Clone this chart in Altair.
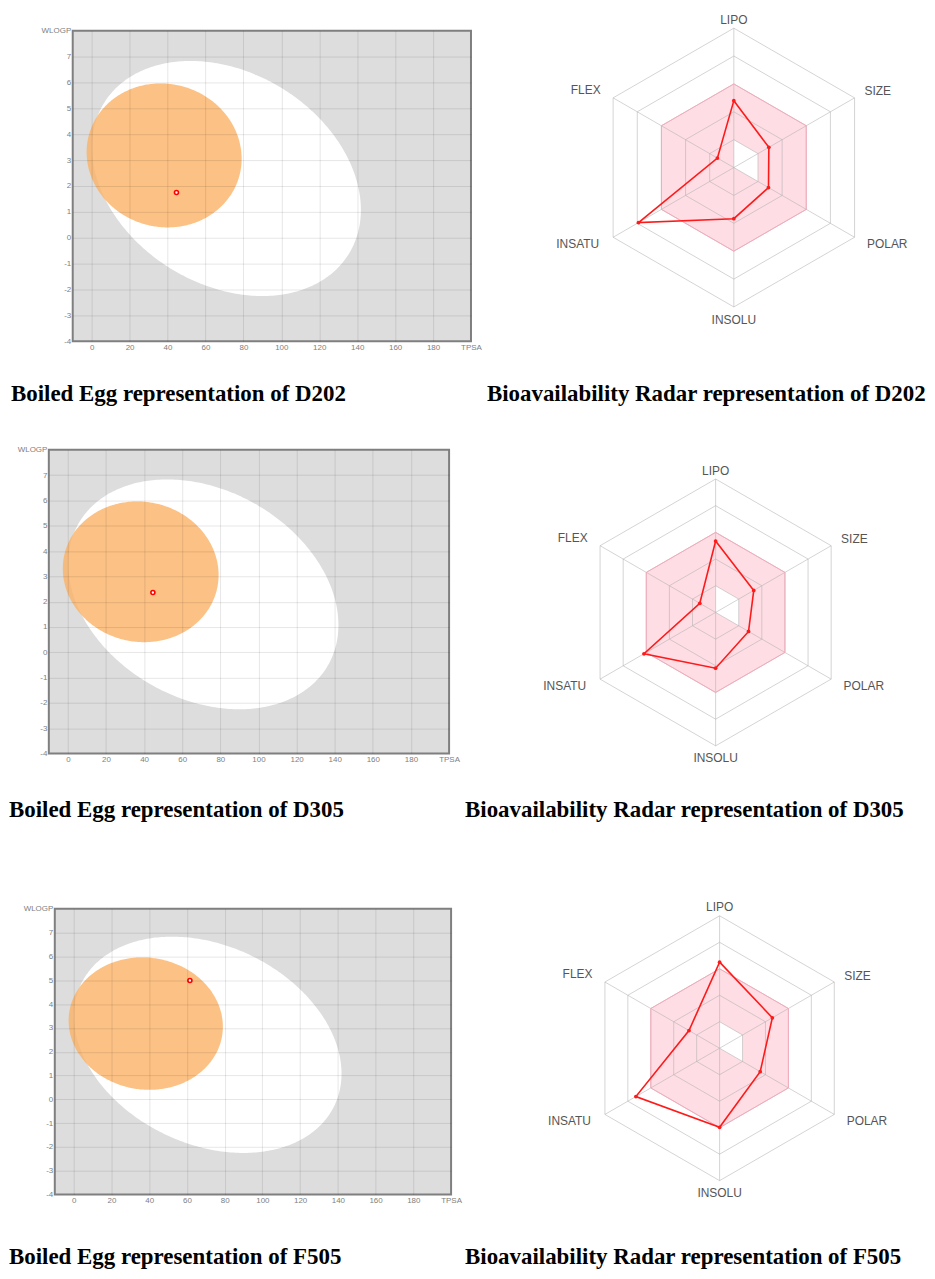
import math
import altair as alt
import pandas as pd

# ---------------- data ----------------
COMPOUNDS = ["D202", "D305", "F505"]
TPSA_VALUES = [44.7, 44.6, 61.6]
WLOGP_VALUES = [1.75, 2.36, 4.99]

RADAR_AXES = ["LIPO", "SIZE", "POLAR", "INSOLU", "INSATU", "FLEX"]
LIPO = [0.48, 0.535, 0.65]
SIZE = [0.29, 0.33, 0.46]
POLAR = [0.287, 0.285, 0.354]
INSOLU = [0.367, 0.418, 0.597]
INSATU = [0.79, 0.62, 0.73]
FLEX = [0.136, 0.137, 0.267]

TPSA_TICKS = [0, 20, 40, 60, 80, 100, 120, 140, 160, 180, 200]
WLOGP_TICKS = [-4, -3, -2, -1, 0, 1, 2, 3, 4, 5, 6, 7, 8]
TPSA_TITLE = "TPSA"
WLOGP_TITLE = "WLOGP"
TPSA_DOMAIN = [-10, 200]
WLOGP_DOMAIN = [-4, 8]

RING_LEVELS = [0.2, 0.4, 0.6, 0.8, 1.0]
BAND_INNER = 0.2
BAND_OUTER = 0.6

# Egg regions: centre (data units), semi-axes and tilt measured in the reference panel
WHITE_EGG = {"cx": 71.05, "cy": 2.29, "a": 144.4, "b": 106.4, "tilt": -31.6}
YOLK = {"cx": 38.2, "cy": 3.18, "a": 78.3, "b": 71.8, "tilt": -15.8}

# ---------------- layout (page pixels) ----------------
MARGIN = 8
RIGHT = 920
ROWS = [
    dict(egg_left=72, egg_top=29, egg_w=400, egg_h=312, rcx=736.0, rcy=166.5, R=140,
         egg_cap_x=10, radar_cap_x=488, cap_base=401),
    dict(egg_left=48, egg_top=449, egg_w=402, egg_h=305, rcx=717.7, rcy=612.3, R=134,
         egg_cap_x=8, radar_cap_x=466, cap_base=818),
    dict(egg_left=54, egg_top=909, egg_w=398, egg_h=287, rcx=721.7, rcy=1049.0, R=133,
         egg_cap_x=8, radar_cap_x=466, cap_base=1266),
]
TOP_NUDGE = -2  # measured correction of the first row's vertical placement
KX = 400 / 210  # px per TPSA unit in the reference panel
KY = 312 / 12   # px per WLOGP unit in the reference panel

SANS = "Liberation Sans"
SERIF = "Liberation Serif"
LABEL_SIZE = 8
LABEL_PAD = 2
CAP_SIZE = 23
RADAR_FONT = 12

LABEL_STYLE = {  # align, dx, dy
    "LIPO": ("center", 0, -8.5),
    "SIZE": ("left", 10, -6.5),
    "POLAR": ("left", 12.5, 6.5),
    "INSOLU": ("center", 0, 12.7),
    "INSATU": ("right", -14, 6.5),
    "FLEX": ("right", -12.5, -8),
}

PINK = "#fedde4"
PINK_EDGE = "#f3aabb"
GRID = "#b0b0b0"
RED = "#ff1a1a"


def caption(text, dx, offset):
    return alt.TitleParams(
        text=text, orient="bottom", anchor="start", frame="group", dx=dx,
        offset=offset, baseline="alphabetic", font=SERIF, fontSize=CAP_SIZE,
        fontWeight="bold", color="#000000",
    )


def ellipse_area(e, color, opacity, X, Y):
    th = math.radians(e["tilt"])
    A, B = e["a"], e["b"]
    s, c = math.sin(th), math.cos(th)
    hw = math.sqrt(A * A * c * c + B * B * s * s)
    qa = s * s / A ** 2 + c * c / B ** 2
    qb = 2 * s * c * (1 / A ** 2 - 1 / B ** 2)
    qc = c * c / A ** 2 + s * s / B ** 2
    return (
        alt.Chart(alt.sequence(0, 181, 1, as_="i"))
        .transform_calculate(u=f"-({hw})*cos(datum.i*PI/180)")
        .transform_calculate(
            d=f"max(0, pow(({qb})*datum.u, 2) - 4*({qa})*(({qc})*datum.u*datum.u - 1))"
        )
        .transform_calculate(
            tpsa=f"({e['cx']}) + datum.u/({KX})",
            lo=f"({e['cy']}) + ((-({qb})*datum.u - sqrt(datum.d))/(2*({qa})))/({KY})",
            hi=f"({e['cy']}) + ((-({qb})*datum.u + sqrt(datum.d))/(2*({qa})))/({KY})",
        )
        .mark_area(color=color, opacity=opacity)
        .encode(x=X("tpsa"), y=Y("lo"), y2=alt.Y2("hi:Q"))
    )


def egg_chart(i, row):
    xs = alt.Scale(domain=TPSA_DOMAIN, nice=False, zero=False)
    ys = alt.Scale(domain=WLOGP_DOMAIN, nice=False, zero=False)
    common = dict(
        title=None, domain=False, ticks=False, tickSize=0,
        labelFont=SANS, labelFontSize=LABEL_SIZE, labelColor="#808080",
        labelPadding=LABEL_PAD, labelFlush=False, labelOverlap=False,
        grid=True, gridColor="#000000", gridWidth=1, zindex=1,
    )
    xaxis = alt.Axis(
        values=TPSA_TICKS,
        labelExpr=f"datum.value == {TPSA_TICKS[-1]} ? '{TPSA_TITLE}' : '' + datum.value",
        gridOpacity={"condition": {"test": f"datum.value >= {TPSA_DOMAIN[1]}", "value": 0},
                     "value": 0.1},
        **common,
    )
    yaxis = alt.Axis(
        values=WLOGP_TICKS,
        labelExpr=f"datum.value == {WLOGP_TICKS[-1]} ? '{WLOGP_TITLE}' : '' + datum.value",
        gridOpacity={"condition": {"test": f"datum.value >= {WLOGP_DOMAIN[1]} || datum.value <= {WLOGP_DOMAIN[0]}",
                                   "value": 0},
                     "value": 0.1},
        **common,
    )

    def X(f):
        return alt.X(f"{f}:Q", scale=xs, axis=xaxis)

    def Y(f):
        return alt.Y(f"{f}:Q", scale=ys, axis=yaxis, stack=None)

    white = ellipse_area(WHITE_EGG, "#ffffff", 1.0, X, Y)
    yolk = ellipse_area(YOLK, "#fbb265", 0.8, X, Y)
    pt = (
        alt.Chart(pd.DataFrame({"tpsa": [TPSA_VALUES[i]], "wlogp": [WLOGP_VALUES[i]]}))
        .mark_circle(size=16, fill="#ffffff", stroke="#ff0000", strokeWidth=1.6, opacity=1)
        .encode(x=X("tpsa"), y=Y("wlogp"))
    )
    bottom = row["egg_top"] + row["egg_h"] + LABEL_PAD + LABEL_SIZE
    title = caption(f"Boiled Egg representation of {COMPOUNDS[i]}",
                    row["egg_cap_x"] - row["egg_left"], row["cap_base"] - bottom)
    return alt.layer(white, yolk, pt).properties(
        width=row["egg_w"], height=row["egg_h"], title=title,
        view=alt.ViewBackground(fill="#dddddd", stroke="#7f7f7f", strokeWidth=2),
    )


ANG = "(PI/2 - datum.{k}*PI/3)"


def radar_geometry(row):
    R, cx, cy = row["R"], row["rcx"], row["rcy"]
    left = row["egg_left"] + row["egg_w"]
    top = row["egg_top"]
    height = row["egg_h"]
    ytop = (cy - top) / R
    # top edge of the LIPO label relative to the panel top
    lipo_top = -(1 - ytop) * R + LABEL_STYLE["LIPO"][2] - 0.375 * RADAR_FONT
    return R, cx, cy, left, top, height, lipo_top


def radar_chart(i, row):
    R, cx, cy, left, top, height, _ = radar_geometry(row)
    width = RIGHT - left
    xs = alt.Scale(domain=[(left - cx) / R, (RIGHT - cx) / R], nice=False, zero=False)
    ys = alt.Scale(domain=[(cy - (top + height)) / R, (cy - top) / R], nice=False, zero=False)

    def X(f):
        return alt.X(f"{f}:Q", scale=xs, axis=None)

    def Y(f):
        return alt.Y(f"{f}:Q", scale=ys, axis=None, stack=None)

    a_u = ANG.format(k="ku")
    a_l = ANG.format(k="kl")
    a_k = ANG.format(k="k")

    band = (
        alt.Chart(pd.DataFrame({"ku": [5, 0, 1], "kl": [4, 3, 2]}))
        .transform_calculate(bx=f"{BAND_OUTER}*cos({a_u})", by=f"{BAND_OUTER}*sin({a_u})",
                             by2=f"{BAND_OUTER}*sin({a_l})")
        .mark_area(color=PINK, opacity=1)
        .encode(x=X("bx"), y=Y("by"), y2=alt.Y2("by2:Q"))
    )
    hole = (
        alt.Chart(pd.DataFrame({"ku": [0, 1], "ru": [BAND_INNER, BAND_INNER],
                                "kl": [0, 2], "rl": [0, BAND_INNER]}))
        .transform_calculate(hx=f"datum.ru*cos({a_u})", hy=f"datum.ru*sin({a_u})",
                             hy2=f"datum.rl*sin({a_l})")
        .mark_area(color="#ffffff", opacity=1)
        .encode(x=X("hx"), y=Y("hy"), y2=alt.Y2("hy2:Q"))
    )
    ring_df = pd.DataFrame([(r, k) for r in RING_LEVELS for k in range(len(RADAR_AXES))],
                           columns=["r", "k"])
    rings = (
        alt.Chart(ring_df)
        .transform_calculate(rx=f"datum.r*cos({a_k})", ry=f"datum.r*sin({a_k})")
        .mark_line(interpolate="linear-closed", color=GRID, strokeWidth=1, opacity=0.55)
        .encode(x=X("rx"), y=Y("ry"), detail="r:N", order="k:Q")
    )
    axis_df = pd.DataFrame({"axis": RADAR_AXES, "k": list(range(len(RADAR_AXES)))})
    spokes = (
        alt.Chart(axis_df)
        .transform_calculate(z="0", ex=f"cos({a_k})", ey=f"sin({a_k})")
        .mark_rule(color=GRID, strokeWidth=1, opacity=0.55)
        .encode(x=X("z"), y=Y("z"), x2=alt.X2("ex:Q"), y2=alt.Y2("ey:Q"))
    )
    edge = (
        alt.Chart(axis_df)
        .transform_calculate(rx=f"{BAND_OUTER}*cos({a_k})", ry=f"{BAND_OUTER}*sin({a_k})")
        .mark_line(interpolate="linear-closed", color=PINK_EDGE, strokeWidth=1)
        .encode(x=X("rx"), y=Y("ry"), order="k:Q")
    )
    vals = [LIPO[i], SIZE[i], POLAR[i], INSOLU[i], INSATU[i], FLEX[i]]
    pts_df = pd.DataFrame({"axis": RADAR_AXES, "k": list(range(len(RADAR_AXES))), "v": vals})
    pts_base = alt.Chart(pts_df).transform_calculate(
        px=f"datum.v*cos({a_k})", py=f"datum.v*sin({a_k})")
    poly = pts_base.mark_line(interpolate="linear-closed", color=RED, strokeWidth=1.6).encode(
        x=X("px"), y=Y("py"), order="k:Q")
    dots = pts_base.mark_circle(size=14, color=RED, opacity=1).encode(x=X("px"), y=Y("py"))

    layers = [band, hole, rings, spokes, edge, poly, dots]
    for name in RADAR_AXES:
        align, dx, dy = LABEL_STYLE[name]
        layers.append(
            alt.Chart(axis_df)
            .transform_filter(f"datum.axis == '{name}'")
            .transform_calculate(lx=f"cos({a_k})", ly=f"sin({a_k})")
            .mark_text(align=align, baseline="middle", dx=dx, dy=dy, font=SANS,
                       fontSize=RADAR_FONT, color="#555555")
            .encode(x=X("lx"), y=Y("ly"), text="axis:N")
        )
    view_bottom = max(top + height, cy + R + LABEL_STYLE["INSOLU"][2] + 6)
    title = caption(f"Bioavailability Radar representation of {COMPOUNDS[i]}",
                    row["radar_cap_x"] - left, row["cap_base"] - view_bottom)
    return alt.layer(*layers).properties(width=width, height=height, title=title)


def spacer(w, h):
    return (
        alt.Chart(pd.DataFrame({"z": [0]}))
        .mark_point(opacity=0, size=1)
        .encode(x=alt.X("z:Q", axis=None), y=alt.Y("z:Q", axis=None))
        .properties(width=w, height=h)
    )


def overhang(row):
    # how far a row's content reaches above the row's top edge (whole pixels)
    lipo_top = radar_geometry(row)[-1]
    top = min(0.0, lipo_top, -LABEL_SIZE / 2)
    return math.ceil(-top)


rows = []
for i, row in enumerate(ROWS):
    if i + 1 < len(ROWS):
        nxt = ROWS[i + 1]
        sp_h = nxt["egg_top"] - row["egg_top"] - overhang(nxt)
    else:
        sp_h = row["egg_h"]
    rows.append(
        alt.hconcat(spacer(row["egg_left"] - MARGIN, sp_h), egg_chart(i, row),
                    radar_chart(i, row), spacing=0, bounds="flush")
    )

top_gap = ROWS[0]["egg_top"] - MARGIN - overhang(ROWS[0]) + TOP_NUDGE
chart = (
    alt.vconcat(spacer(1, max(top_gap, 1)), *rows, spacing=0)
    .properties(padding=0, background="#ffffff")
    .configure_view(stroke=None)
)

chart.save("out.html", embed_options={"renderer": "svg", "actions": False})
